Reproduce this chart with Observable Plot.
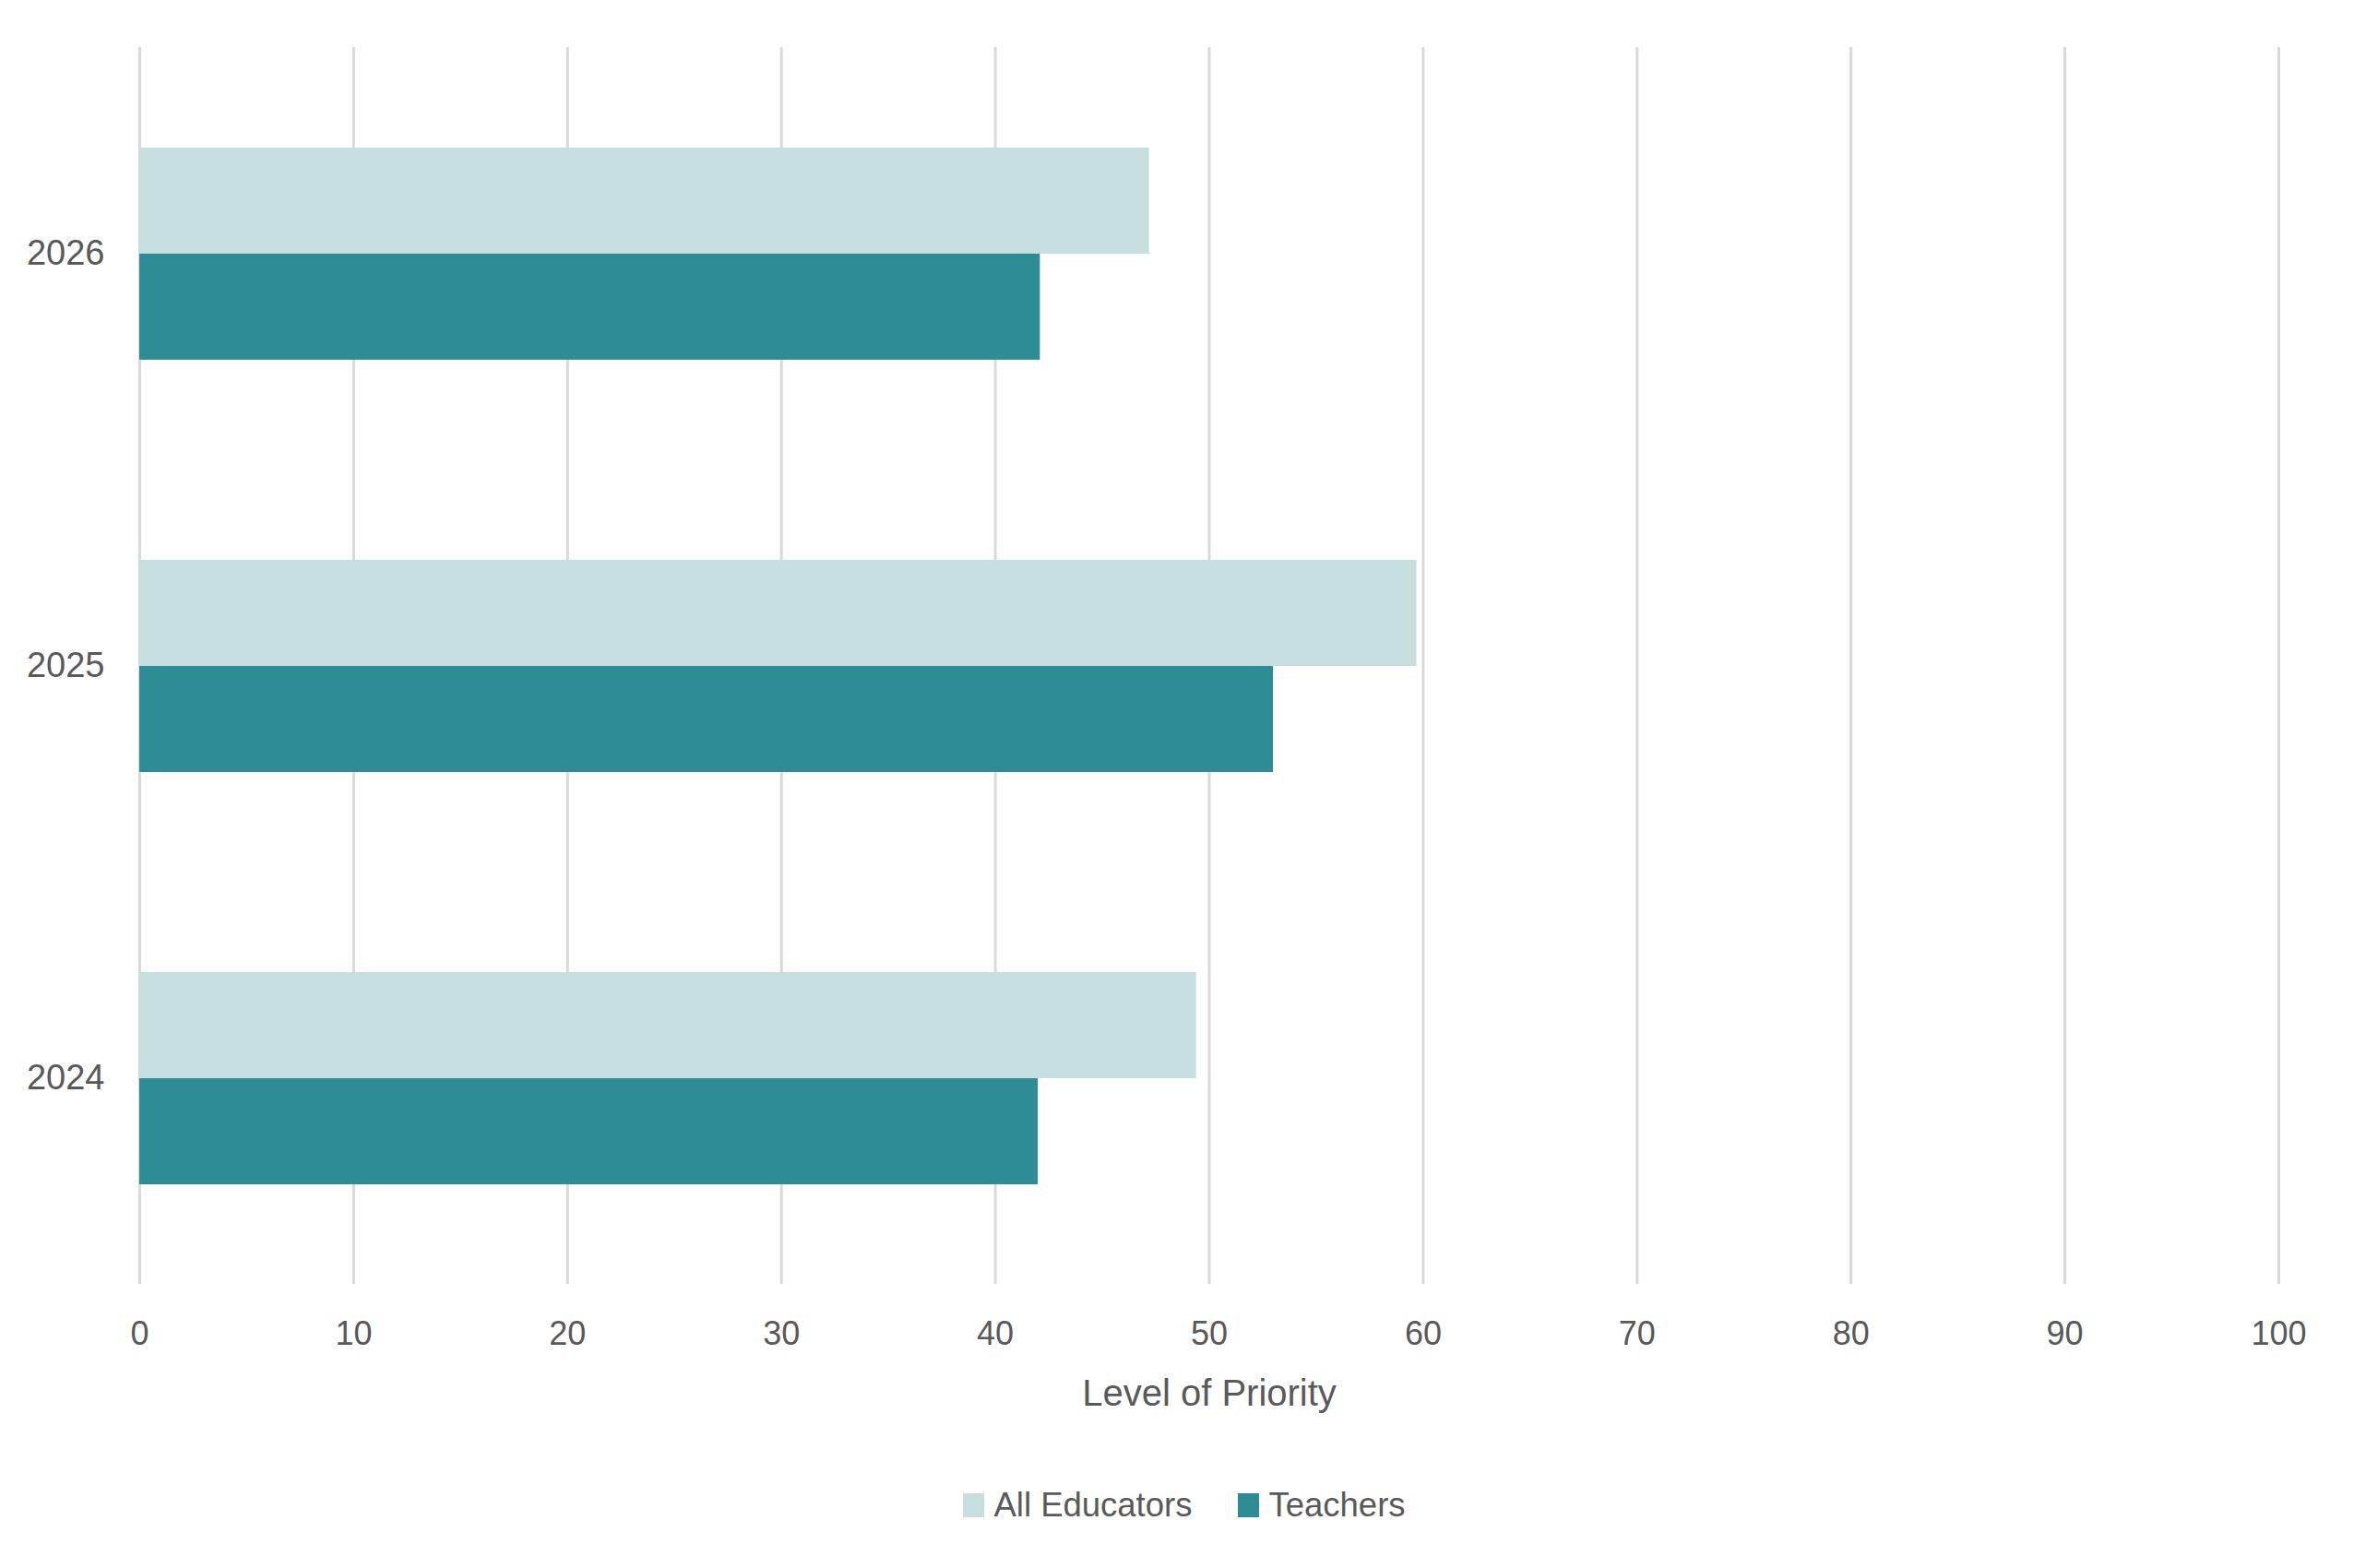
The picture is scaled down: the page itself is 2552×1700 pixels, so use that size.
<!DOCTYPE html>
<html>
<head>
<meta charset="utf-8">
<script src="https://cdn.jsdelivr.net/npm/d3@7"></script>
<script src="https://cdn.jsdelivr.net/npm/@observablehq/plot@0.6"></script>
<style>
  body { margin: 0; background: #fff; font-family: "Liberation Sans", Arial, sans-serif; color: #595959; }
  #legend { display: flex; justify-content: center; align-items: center; margin-top: 49px; font-size: 36.5px; padding-left: 16px; }
  .item { display: flex; align-items: center; margin: 0 25px; }
  .sw { width: 23px; height: 26px; margin-right: 10px; }
</style>
</head>
<body>
<div id="chart"></div>
<div id="legend"></div>
<script>
const years = ["2026", "2025", "2024"];
const series = ["All Educators", "Teachers"];
const allEducators = [47.2, 59.7, 49.4];
const teachers = [42.1, 53.0, 42.0];
const colors = ["#c7dedf", "#2e8c95"];
const xTicks = [0, 10, 20, 30, 40, 50, 60, 70, 80, 90, 100];
const xLabel = "Level of Priority";

const data = years.flatMap((yr, i) => [
  {year: yr, series: series[0], value: allEducators[i]},
  {year: yr, series: series[1], value: teachers[i]}
]);

const chart = Plot.plot({
  width: 2552,
  height: 1562,
  marginTop: 50,
  marginBottom: 170,
  marginLeft: 151,
  marginRight: 82,
  style: {fontFamily: "Liberation Sans, Arial, sans-serif", fontSize: "36px", color: "#595959", background: "#fff"},
  x: {domain: [0, 100]},
  y: {domain: series, paddingInner: 0, paddingOuter: 0.927, axis: null},
  fy: {domain: years, padding: 0, label: null, axis: null},
  color: {domain: series, range: colors},
  marks: [
    Plot.gridX(xTicks, {stroke: "#d9d9d9", strokeOpacity: 1, strokeWidth: 3}),
    Plot.barX(data, {fy: "year", y: "series", x: "value", fill: "series"}),
    Plot.axisX({ticks: xTicks, tickSize: 0, tickPadding: 40, fontSize: 36, label: null}),
    Plot.axisX({ticks: [], tickSize: 0, fontSize: 40, label: xLabel, labelAnchor: "center", labelArrow: "none", labelOffset: 131}),
    Plot.axisFy({anchor: "left", tickSize: 0, tickPadding: 38, fontSize: 38, label: null})
  ]
});
document.getElementById("chart").appendChild(chart);

const legend = document.getElementById("legend");
series.forEach((s, i) => {
  const item = document.createElement("div");
  item.className = "item";
  const sw = document.createElement("div");
  sw.className = "sw";
  sw.style.background = colors[i];
  const label = document.createElement("span");
  label.textContent = s;
  item.appendChild(sw);
  item.appendChild(label);
  legend.appendChild(item);
});
</script>
</body>
</html>
